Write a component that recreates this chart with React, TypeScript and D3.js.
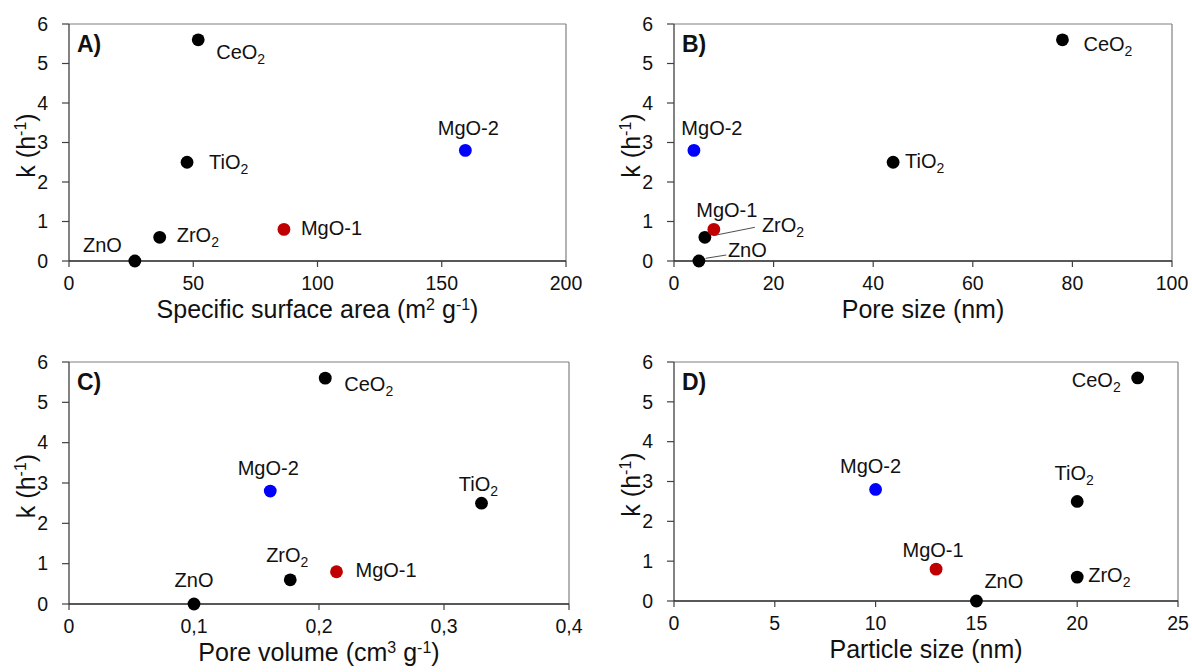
import React from "react";
import * as d3 from "d3";

// ---- data ----
const materials = ["CeO2", "TiO2", "ZrO2", "ZnO", "MgO-1", "MgO-2"];
const kValues = [5.6, 2.5, 0.6, 0, 0.8, 2.8];
const surfaceArea = [52, 47.5, 36.5, 26.5, 86.5, 159.5];
const poreSize = [78, 44, 6.2, 5, 8, 4];
const poreVolume = [0.205, 0.33, 0.177, 0.1, 0.214, 0.161];
const particleSize = [23, 20, 20, 15, 13, 10];
const yTicks = [0, 1, 2, 3, 4, 5, 6];
const ticksA = [0, 50, 100, 150, 200];
const ticksB = [0, 20, 40, 60, 80, 100];
const ticksC = [0, 0.1, 0.2, 0.3, 0.4];
const ticksD = [0, 5, 10, 15, 20, 25];

const colorOf = (m: string) =>
  m === "MgO-1" ? "#c00000" : m === "MgO-2" ? "#0000ff" : "#000000";

type Lab = [number, number, "start" | "middle" | "end"];

// label placement (layout)
const labelsA: Lab[] = [[18, 19, "start"], [22, 7, "start"], [17, 5, "start"], [-13, -9, "end"], [17, 6, "start"], [3, -15, "middle"]];
const labelsB: Lab[] = [[21, 11, "start"], [12, 6, "start"], [57, -5, "start"], [29, -4, "start"], [-17.6, -12.7, "start"], [18, -15, "middle"]];
const labelsC: Lab[] = [[19, 13, "start"], [-3, -12, "middle"], [-3, -18, "middle"], [0, -17, "middle"], [19, 5, "start"], [-2, -16, "middle"]];
const labelsD: Lab[] = [[-17, 9, "end"], [-3, -21, "middle"], [11, 5, "start"], [8, -13, "start"], [-3, -12, "middle"], [-5, -16, "middle"]];

const FONT = "'Liberation Sans', Arial, Helvetica, sans-serif";
const TICK = 19.5;
const TITLE = 25;
const LABEL = 20;
const SUP = 16;

function Chem({ name }: { name: string }) {
  const m = name.match(/^([A-Za-z]+)(\d)$/);
  if (m) {
    return (
      <>
        <tspan>{m[1]}</tspan>
        <tspan fontSize={14} dy={5}>{m[2]}</tspan>
      </>
    );
  }
  return <tspan>{name}</tspan>;
}

type PanelProps = {
  tag: string;
  xv: number[];
  xDomain: [number, number];
  xRange: [number, number];
  yRange: [number, number];
  xTicks: number[];
  fmt: (v: number) => string;
  labels: Lab[];
  title: React.ReactNode;
  leaders?: { i: number; x1: number; y1: number; x2: number; y2: number }[];
};

function Panel(p: PanelProps) {
  const x = d3.scaleLinear().domain(p.xDomain).range(p.xRange);
  const y = d3.scaleLinear().domain([0, 6]).range(p.yRange);
  const [x0, x1] = p.xRange;
  const [yb, yt] = p.yRange;
  return (
    <g fontFamily={FONT}>
      {/* frame */}
      <line x1={x0} x2={x1} y1={yt} y2={yt} stroke="#808080" strokeWidth={1.2} />
      <line x1={x1} x2={x1} y1={yt} y2={yb} stroke="#808080" strokeWidth={1.2} />
      <line x1={x0} x2={x0} y1={yt} y2={yb} stroke="#404040" strokeWidth={1.3} />
      <line x1={x0} x2={x1} y1={yb} y2={yb} stroke="#202020" strokeWidth={1.3} />
      {/* y ticks */}
      {yTicks.map((t) => (
        <g key={"y" + t}>
          <line x1={x0 - 7} x2={x0} y1={y(t)} y2={y(t)} stroke="#404040" strokeWidth={1.2} />
          <text x={x0 - 21} y={y(t)} dy="0.35em" textAnchor="end" fontSize={TICK} fill="#111">
            {t}
          </text>
        </g>
      ))}
      {/* x ticks */}
      {p.xTicks.map((t) => (
        <g key={"x" + t}>
          <line x1={x(t)} x2={x(t)} y1={yb} y2={yb + 6} stroke="#404040" strokeWidth={1.2} />
          <text x={x(t)} y={yb + 29} textAnchor="middle" fontSize={TICK} fill="#111">
            {p.fmt(t)}
          </text>
        </g>
      ))}
      {/* axis titles */}
      <text x={(x0 + x1) / 2} y={yb + 57} textAnchor="middle" fontSize={TITLE} fill="#111">
        {p.title}
      </text>
      <text
        transform={`translate(${x0 - 34},${(yb + yt) / 2 + 3}) rotate(-90)`}
        textAnchor="middle"
        fontSize={TITLE}
        fill="#111"
      >
        k (h<tspan fontSize={SUP} dy={-9}>-1</tspan>
        <tspan dy={9}>)</tspan>
      </text>
      <text x={x0 + 8} y={yt + 28} fontSize={23} fontWeight="bold" fill="#111">
        {p.tag}
      </text>
      {/* leaders */}
      {(p.leaders || []).map((l, j) => (
        <line
          key={"l" + j}
          x1={x(p.xv[l.i]) + l.x1}
          y1={y(kValues[l.i]) + l.y1}
          x2={x(p.xv[l.i]) + l.x2}
          y2={y(kValues[l.i]) + l.y2}
          stroke="#222"
          strokeWidth={0.8}
        />
      ))}
      {/* points */}
      {materials.map((m, i) => (
        <circle key={m} cx={x(p.xv[i])} cy={y(kValues[i])} r={6.4} fill={colorOf(m)} />
      ))}
      {/* labels */}
      {materials.map((m, i) => (
        <text
          key={"t" + m}
          x={x(p.xv[i]) + p.labels[i][0]}
          y={y(kValues[i]) + p.labels[i][1]}
          textAnchor={p.labels[i][2]}
          fontSize={LABEL}
          fill="#111"
        >
          <Chem name={m} />
        </text>
      ))}
    </g>
  );
}

const comma = (v: number) => (v === 0 ? "0" : String(v).replace(".", ","));
const plain = (v: number) => String(v);

function SupTitle({ main, unit }: { main: string; unit: string }) {
  return (
    <>
      {main} (
      {unit.split(/(\d)/).filter(Boolean).map((s, i) =>
        /\d/.test(s) ? (
          <tspan key={i} fontSize={SUP} dy={-8}>{s}</tspan>
        ) : (
          <tspan key={i} dy={i === 0 ? 0 : 8}>{s}</tspan>
        )
      )}
      <tspan dy={-8}>{" g"}</tspan>
      <tspan dy={0} fontSize={SUP}>-1</tspan>
      <tspan dy={8}>)</tspan>
    </>
  );
}

export default function App() {
  return (
    <svg
      width={1192}
      height={672}
      style={{ position: "absolute", left: 0, top: 0, background: "#fff" }}
    >
      <rect width={1192} height={672} fill="#fff" />
      <Panel
        tag="A)"
        xv={surfaceArea}
        xDomain={[0, 200]}
        xRange={[69, 566]}
        yRange={[261, 24]}
        xTicks={ticksA}
        fmt={plain}
        labels={labelsA}
        title={
          <>
            Specific surface area (m<tspan fontSize={SUP} dy={-8}>2</tspan>
            <tspan dy={8}> g</tspan>
            <tspan fontSize={SUP} dy={-8}>-1</tspan>
            <tspan dy={8}>)</tspan>
          </>
        }
      />
      <Panel
        tag="B)"
        xv={poreSize}
        xDomain={[0, 100]}
        xRange={[674, 1172]}
        yRange={[261, 24]}
        xTicks={ticksB}
        fmt={plain}
        labels={labelsB}
        title={<>Pore size (nm)</>}
        leaders={[
          { i: 2, x1: 8, y1: -1.6, x2: 50, y2: -10 },
          { i: 3, x1: 6.7, y1: -2.7, x2: 27.4, y2: -6 },
        ]}
      />
      <Panel
        tag="C)"
        xv={poreVolume}
        xDomain={[0, 0.4]}
        xRange={[69, 569]}
        yRange={[604, 362]}
        xTicks={ticksC}
        fmt={comma}
        labels={labelsC}
        title={
          <>
            Pore volume (cm<tspan fontSize={SUP} dy={-8}>3</tspan>
            <tspan dy={8}> g</tspan>
            <tspan fontSize={SUP} dy={-8}>-1</tspan>
            <tspan dy={8}>)</tspan>
          </>
        }
      />
      <Panel
        tag="D)"
        xv={particleSize}
        xDomain={[0, 25]}
        xRange={[674, 1178]}
        yRange={[601, 362]}
        xTicks={ticksD}
        fmt={plain}
        labels={labelsD}
        title={<>Particle size (nm)</>}
      />
    </svg>
  );
}
